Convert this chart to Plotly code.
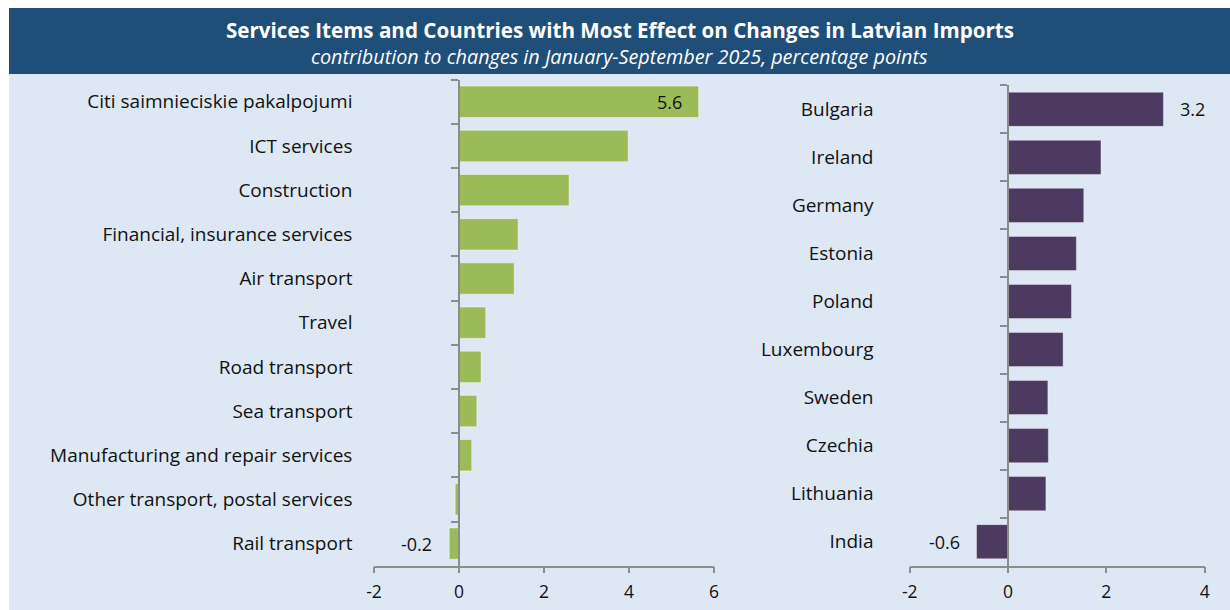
import plotly.graph_objects as go

# ---------------- data ----------------
title_text = "Services Items and Countries with Most Effect on Changes in Latvian Imports"
subtitle_text = "contribution to changes in January-September 2025, percentage points"

items = ["Citi saimnieciskie pakalpojumi", "ICT services", "Construction",
         "Financial, insurance services", "Air transport", "Travel",
         "Road transport", "Sea transport", "Manufacturing and repair services",
         "Other transport, postal services", "Rail transport"]
item_values = [5.64, 3.98, 2.59, 1.39, 1.30, 0.63, 0.52, 0.42, 0.30, -0.09, -0.23]

countries = ["Bulgaria", "Ireland", "Germany", "Estonia", "Poland",
             "Luxembourg", "Sweden", "Czechia", "Lithuania", "India"]
country_values = [3.16, 1.89, 1.54, 1.39, 1.29, 1.12, 0.81, 0.82, 0.77, -0.64]

left_ticks = [-2, 0, 2, 4, 6]
right_ticks = [-2, 0, 2, 4]

# ---------------- style ----------------
W, H = 1230, 610
FONT = "Open Sans"
GREEN = "#9bbb59"
PURPLE = "#4d3a61"
HEADER = "#1f4e79"
BG = "#dde8f4"
AXIS = "#8c8c8c"

left_range = [-2, 6]
right_range = [-2, 4]
left_dom = [374 / W, 714 / W]
right_dom = [909.7 / W, 1204.7 / W]
left_ydom = [1 - 565.7 / H, 1 - 79.7 / H]
right_ydom = [1 - 565.7 / H, 1 - 85.3 / H]


def zero_pos(dom, rng):
    return dom[0] + (0 - rng[0]) / (rng[1] - rng[0]) * (dom[1] - dom[0])


fig = go.Figure()
fig.add_trace(go.Bar(
    y=items, x=item_values, orientation="h", xaxis="x", yaxis="y",
    marker=dict(color=GREEN, line=dict(color="rgba(255,255,255,0.45)", width=1)),
    width=0.71, showlegend=False, hoverinfo="x+y"))
fig.add_trace(go.Bar(
    y=countries, x=country_values, orientation="h", xaxis="x2", yaxis="y2",
    marker=dict(color=PURPLE, line=dict(color="rgba(255,255,255,0.35)", width=1)),
    width=0.71, showlegend=False, hoverinfo="x+y"))

tickfont = dict(family=FONT, size=19, color="#111111")
xtickfont = dict(family=FONT, size=17.5, color="#111111")

common_x = dict(showgrid=False, zeroline=False, showline=True, linecolor=AXIS,
                linewidth=1.5, ticks="outside", ticklen=6, tickcolor=AXIS,
                tickwidth=1.5, tickfont=xtickfont, automargin=False,
                ticklabelstandoff=4, fixedrange=True)
common_y = dict(showgrid=False, zeroline=False, showline=True, linecolor=AXIS,
                linewidth=1.5, ticks="outside", ticklen=7, tickcolor=AXIS,
                tickwidth=1.5, tickson="boundaries", tickfont=tickfont,
                automargin=False, anchor="free", type="category",
                autorange="reversed", fixedrange=True)

fig.update_layout(
    width=W, height=H,
    margin=dict(l=0, r=0, t=0, b=0),
    paper_bgcolor="white", plot_bgcolor="rgba(0,0,0,0)",
    template="none",
    xaxis=dict(common_x, domain=left_dom, range=left_range, tickvals=left_ticks,
               ticktext=[str(t) for t in left_ticks], anchor="y"),
    yaxis=dict(common_y, domain=left_ydom, position=zero_pos(left_dom, left_range),
               ticklabelstandoff=102),
    xaxis2=dict(common_x, domain=right_dom, range=right_range, tickvals=right_ticks,
                ticktext=[str(t) for t in right_ticks], anchor="y2"),
    yaxis2=dict(common_y, domain=right_ydom, position=zero_pos(right_dom, right_range),
                ticklabelstandoff=130),
    shapes=[
        dict(type="rect", xref="paper", yref="paper", x0=9 / W, x1=1, y0=0,
             y1=1 - 74 / H, fillcolor=BG, line=dict(width=0), layer="below"),
        dict(type="rect", xref="paper", yref="paper", x0=9 / W, x1=1,
             y0=1 - 74 / H, y1=1 - 8 / H, fillcolor=HEADER, line=dict(width=0),
             layer="below"),
    ],
)

annotations = [
    dict(xref="paper", yref="paper", x=(9 / W + 1) / 2, y=1 - 30 / H,
         text="<b>" + title_text + "</b>", showarrow=False,
         font=dict(family=FONT, size=20.6, color="white"), xanchor="center",
         yanchor="middle"),
    dict(xref="paper", yref="paper", x=(9 / W + 1) / 2, y=1 - 57 / H,
         text="<i>" + subtitle_text + "</i>", showarrow=False,
         font=dict(family=FONT, size=19.8, color="white"), xanchor="center",
         yanchor="middle"),
]

lab_font = dict(family=FONT, size=18, color="#111111")


def value_label(xref, yref, cat, val, inside):
    if val >= 0:
        anchor = "right" if inside else "left"
        shift = -15 if inside else 15
    else:
        anchor = "right"
        shift = -15
    return dict(xref=xref, yref=yref, x=val, y=cat, text=f"{val:.1f}",
                showarrow=False, xanchor=anchor, xshift=shift, font=lab_font,
                yanchor="middle")


annotations.append(value_label("x", "y", items[0], item_values[0], True))
annotations.append(value_label("x", "y", items[-1], item_values[-1], False))
annotations.append(value_label("x2", "y2", countries[0], country_values[0], False))
annotations.append(value_label("x2", "y2", countries[-1], country_values[-1], False))

fig.update_layout(annotations=annotations)

fig.write_html("out.html")
